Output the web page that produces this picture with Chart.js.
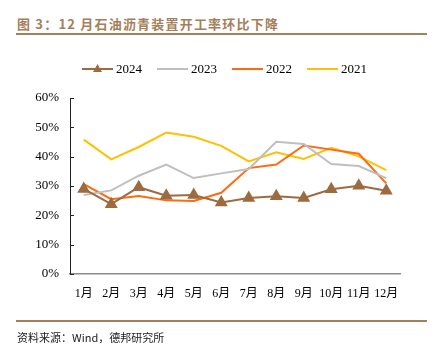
<!DOCTYPE html>
<html>
<head>
<meta charset="utf-8">
<script src="https://cdn.jsdelivr.net/npm/chart.js@4.4.1/dist/chart.umd.min.js"></script>
<style>
  html, body { margin: 0; padding: 0; background: #fff; }
  body { width: 434px; height: 354px; position: relative; overflow: hidden; }
  #title {
    position: absolute; left: 17px; top: 14px;
    font-family: "Noto Sans CJK SC", sans-serif; font-weight: bold;
    font-size: 13px; color: #A57F5B; letter-spacing: 1.2px; white-space: nowrap;
  }
  .rule { position: absolute; left: 16px; width: 411px; height: 2px; background: #A57F5B; }
  #source {
    position: absolute; left: 17px; top: 329px;
    font-family: "Noto Sans CJK SC", sans-serif; font-size: 11px; color: #222; white-space: nowrap;
  }
  #wrap { position: absolute; left: 0; top: 0; width: 434px; height: 354px; }
</style>
</head>
<body>
<div id="title">图 3：12 月石油沥青装置开工率环比下降</div>
<div class="rule" style="top:33px"></div>
<div id="wrap"><canvas id="chart" width="434" height="354"></canvas></div>
<div class="rule" style="top:320px"></div>
<div id="source">资料来源：Wind，德邦研究所</div>
<script>
// Data (%)
const months = ['1月', '2月', '3月', '4月', '5月', '6月', '7月', '8月', '9月', '10月', '11月', '12月'];
const y2024 = [29.0, 23.8, 29.6, 26.7, 26.9, 24.4, 25.9, 26.5, 25.9, 28.9, 30.1, 28.4];
const y2023 = [26.9, 28.5, 33.5, 37.3, 32.7, 34.3, 35.8, 45.1, 44.3, 37.5, 36.8, 32.7];
const y2022 = [30.6, 25.5, 26.6, 25.1, 24.9, 27.7, 36.1, 37.3, 43.8, 42.4, 41.0, 30.9];
const y2021 = [45.8, 39.1, 43.3, 48.2, 46.8, 43.7, 38.4, 41.5, 39.2, 43.0, 40.1, 35.4];
const yTicks = [0, 10, 20, 30, 40, 50, 60];

const serif = '"Liberation Serif", "Times New Roman", "Noto Sans CJK SC", serif';

// Legend drawn on the canvas: line sample with triangle marker for 2024
const lineLegend = {
  id: 'lineLegend',
  afterDraw(c) {
    const g = c.ctx;
    const xs = [82, 157, 232, 307];
    const y = 69;
    g.save();
    g.font = '13px ' + serif;
    g.textBaseline = 'middle';
    c.data.datasets.forEach((ds, i) => {
      const x = xs[i];
      g.strokeStyle = ds.borderColor;
      g.lineWidth = 2;
      g.beginPath();
      g.moveTo(x, y);
      g.lineTo(x + 31, y);
      g.stroke();
      if (ds.pointStyle === 'triangle') {
        g.fillStyle = ds.borderColor;
        g.beginPath();
        g.moveTo(x + 15.5, y - 5);
        g.lineTo(x + 20, y + 3);
        g.lineTo(x + 11, y + 3);
        g.closePath();
        g.fill();
      }
      g.fillStyle = '#000';
      g.fillText(ds.label, x + 34, y + 1);
    });
    g.restore();
  },
};

// Short inward tick marks on the y axis
const innerTicks = {
  id: 'innerTicks',
  afterDraw(c) {
    const s = c.scales.y;
    const g = c.ctx;
    g.save();
    g.strokeStyle = '#222';
    g.lineWidth = 1;
    s.ticks.forEach((t, i) => {
      const y = Math.round(s.getPixelForTick(i)) + 0.5;
      g.beginPath();
      g.moveTo(s.right, y);
      g.lineTo(s.right + 4, y);
      g.stroke();
    });
    g.restore();
  },
};

new Chart(document.getElementById('chart'), {
  type: 'line',
  data: {
    labels: months,
    datasets: [
      {
        label: '2024', data: y2024, borderColor: '#9C6B40', backgroundColor: '#9C6B40',
        borderWidth: 2, pointStyle: 'triangle', pointRadius: 5.5, pointHoverRadius: 5.5,
      },
      { label: '2023', data: y2023, borderColor: '#BFBFBF', borderWidth: 2, pointRadius: 0 },
      { label: '2022', data: y2022, borderColor: '#FF6A10', borderWidth: 2, pointRadius: 0 },
      { label: '2021', data: y2021, borderColor: '#FFC000', borderWidth: 2, pointRadius: 0 },
    ],
  },
  options: {
    responsive: false,
    animation: false,
    devicePixelRatio: 1,
    layout: { padding: { left: 0, top: 98, right: 34, bottom: 0 } },
    scales: {
      x: {
        offset: true,
        grid: { display: false, drawTicks: false },
        border: { display: true, color: '#8C8C8C', width: 1.5 },
        ticks: { color: '#000', font: { family: serif, size: 12 }, padding: 13, maxRotation: 0, autoSkip: false },
        afterFit: (s) => { s.height = 80; },
      },
      y: {
        min: 0, max: 60,
        afterBuildTicks: (s) => { s.ticks = yTicks.map((v) => ({ value: v })); },
        grid: { display: false, drawTicks: false },
        border: { display: true, color: '#222', width: 1 },
        ticks: { color: '#000', font: { family: serif, size: 13 }, padding: 11, callback: (v) => v + '%' },
        afterFit: (s) => { s.width = 70; },
      },
    },
    plugins: {
      legend: { display: false },
      tooltip: { enabled: false },
    },
  },
  plugins: [lineLegend, innerTicks],
});
</script>
</body>
</html>
